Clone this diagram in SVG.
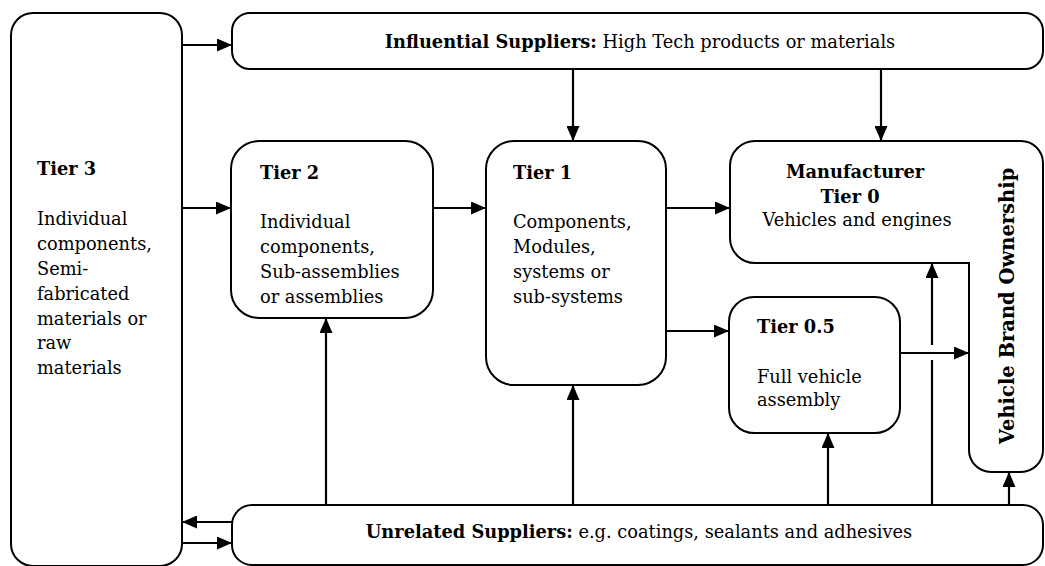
<svg xmlns="http://www.w3.org/2000/svg" width="1045" height="566" viewBox="0 0 1045 566">
<style>
.box{fill:#fff;stroke:#000;stroke-width:2}
.c{fill:none;stroke:#000;stroke-width:2.2}
text{font-family:"DejaVu Serif","Liberation Serif",serif;font-size:17.8px;fill:#000}
.b{font-weight:bold}
.vb{font-size:19.5px;font-weight:bold}
</style>
<defs>
<marker id="ah" markerUnits="userSpaceOnUse" markerWidth="15" markerHeight="13" refX="15" refY="6.5" orient="auto">
<path d="M0,0 L15,6.5 L0,13 Z" fill="#000"/>
</marker>
</defs>
<rect width="1045" height="566" fill="#fff"/>
<g id="tier3">
<rect class="box" x="11" y="13" width="171" height="553" rx="22"/>
<text x="37" y="175" class="b">Tier 3</text>
<text x="37" y="225">Individual</text>
<text x="37" y="250">components,</text>
<text x="37" y="275">Semi-</text>
<text x="37" y="300">fabricated</text>
<text x="37" y="325">materials or</text>
<text x="37" y="349">raw</text>
<text x="37" y="374">materials</text>
</g>
<g id="influential">
<rect class="box" x="232" y="13" width="811" height="56" rx="18"/>
<text x="640" y="48" text-anchor="middle"><tspan class="b">Influential Suppliers:</tspan> High Tech products or materials</text>
</g>
<g id="unrelated">
<rect class="box" x="232" y="505" width="811" height="60" rx="20"/>
<text x="639" y="538" text-anchor="middle"><tspan class="b">Unrelated Suppliers:</tspan> e.g. coatings, sealants and adhesives</text>
</g>
<g id="tier2">
<rect class="box" x="231" y="141" width="202" height="177" rx="28"/>
<text x="260" y="179" class="b">Tier 2</text>
<text x="260" y="228">Individual</text>
<text x="260" y="253">components,</text>
<text x="260" y="278">Sub-assemblies</text>
<text x="260" y="303">or assemblies</text>
</g>
<g id="tier1">
<rect class="box" x="486" y="141" width="180" height="244" rx="28"/>
<text x="513" y="179" class="b">Tier 1</text>
<text x="513" y="228">Components,</text>
<text x="513" y="253">Modules,</text>
<text x="513" y="278">systems or</text>
<text x="513" y="303">sub-systems</text>
</g>
<g id="manufacturer">
<path class="box" d="M755,141 H1021 A22,22 0 0 1 1043,163 V450 A22,22 0 0 1 1021,472 H991 A22,22 0 0 1 969,450 V263 H755 A25,25 0 0 1 730,238 V166 A25,25 0 0 1 755,141 Z"/>
<text x="855" y="178" text-anchor="middle" class="b">Manufacturer</text>
<text x="850" y="203" text-anchor="middle" class="b">Tier 0</text>
<text x="857" y="226" text-anchor="middle">Vehicles and engines</text>
<text transform="translate(1014,306) rotate(-90)" text-anchor="middle" class="vb">Vehicle Brand Ownership</text>
</g>
<g id="tier05">
<rect class="box" x="729" y="297" width="171" height="136" rx="25"/>
<text x="757" y="333" class="b">Tier 0.5</text>
<text x="757" y="383">Full vehicle</text>
<text x="757" y="406">assembly</text>
</g>
<g id="connectors">
<path class="c" marker-end="url(#ah)" d="M182,45 H232"/>
<path class="c" marker-end="url(#ah)" d="M182,208 H231"/>
<path class="c" marker-end="url(#ah)" d="M433,208 H486"/>
<path class="c" marker-end="url(#ah)" d="M666,208 H730"/>
<path class="c" marker-end="url(#ah)" d="M666,331 H729"/>
<path class="c" marker-end="url(#ah)" d="M900,353 H969"/>
<path class="c" marker-end="url(#ah)" d="M573,69 V141"/>
<path class="c" marker-end="url(#ah)" d="M881,69 V141"/>
<path class="c" marker-end="url(#ah)" d="M326,505 V318"/>
<path class="c" marker-end="url(#ah)" d="M573,505 V385"/>
<path class="c" marker-end="url(#ah)" d="M828,505 V433"/>
<path class="c" d="M932,505 V360"/>
<path class="c" marker-end="url(#ah)" d="M932,345 V263"/>
<path class="c" marker-end="url(#ah)" d="M1009,505 V472"/>
<path class="c" marker-end="url(#ah)" d="M232,522 H182"/>
<path class="c" marker-end="url(#ah)" d="M182,543 H232"/>
</g>
</svg>
